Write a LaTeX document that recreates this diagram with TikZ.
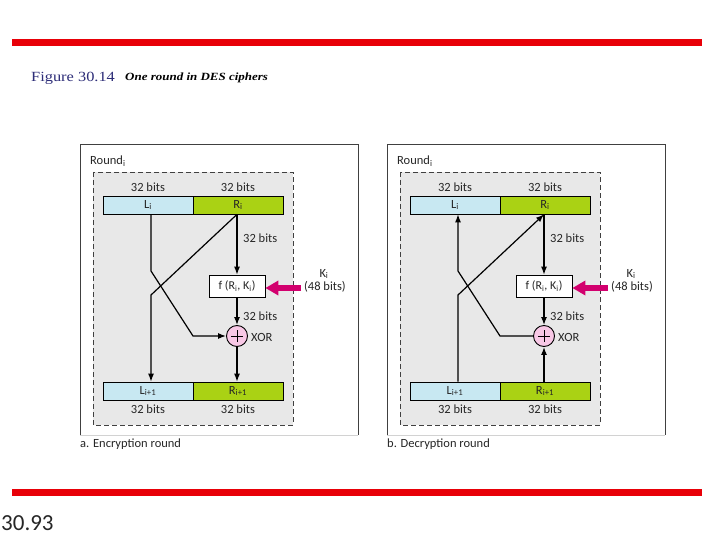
\documentclass[tikz,border=0pt]{standalone}
\usepackage{fontspec}
\setmainfont{Carlito}
\newfontfamily\capserif{Liberation Serif}
\usetikzlibrary{arrows.meta}
\definecolor{redbar}{RGB}{232,0,8}
\definecolor{lblue}{RGB}{200,232,242}
\definecolor{rgreen}{RGB}{170,210,20}
\definecolor{boxgray}{RGB}{232,232,232}
\definecolor{pinkx}{RGB}{248,200,230}
\definecolor{magentax}{RGB}{210,0,110}
\definecolor{capblue}{RGB}{45,45,120}
\begin{document}
\begin{tikzpicture}[x=1pt,y=-1pt,
  lbl/.style={font=\fontsize{12.5}{14}\selectfont, inner sep=0pt, text=black!85},
  barbase/.style={draw=black, line width=0.7pt, minimum width=90pt, minimum height=18pt, inner sep=0pt, font=\fontsize{12.5}{14}\selectfont, text=black!85},
  lbar/.style={barbase, fill=lblue},
  rbar/.style={barbase, fill=rgreen},
  fbox/.style={draw=black, line width=0.7pt, fill=white, minimum width=56pt, minimum height=22pt, inner sep=0pt, font=\fontsize{12}{14}\selectfont, text=black!85},
  xorc/.style={circle, draw=black, line width=0.9pt, fill=pinkx, minimum size=21pt, inner sep=0pt},
  arr/.style={line width=1.2pt, -{Latex[length=8pt,width=6pt]}},
  karrow/.style={draw=magentax, line width=6pt, -{Triangle[length=13pt,width=14pt]}},
  outer/.style={draw=black!75, line width=0.8pt},
  dbox/.style={draw=black!75, fill=boxgray, line width=0.9pt, dash pattern=on 5pt off 3pt}
]
\useasboundingbox (0,0) rectangle (720,540);
\fill[white] (0,0) rectangle (720,540);

% red rules
\draw[redbar, line width=7pt] (12,42.5) -- (702,42.5);
\draw[redbar, line width=7pt] (12,492) -- (702,492);

% title
\node[anchor=west, inner sep=0pt, text=capblue] (figno) at (31,78)
  {\scalebox{1.17}[1]{\capserif\fontsize{14}{16}\selectfont Figure 30.14}};
\node[anchor=west, inner sep=0pt] (figtitle) at (125,78)
  {\scalebox{1.18}[1]{\capserif\fontsize{11}{13}\selectfont\bfseries\itshape One round in DES ciphers}};
\node[anchor=west, inner sep=0pt, text=black!85] (pageno) at (1,523)
  {\fontsize{23}{26}\selectfont 30.93};

% ===== panel a: encryption =====
\draw[outer] (80,435) -- (80,144) -- (358,144) -- (358,435);
\draw[gray!35, line width=0.8pt] (80,435) -- (358,435);
\draw[dbox] (93,172) rectangle (293,425);
\node[lbl, anchor=west] (aRound) at (90,161) {Round\textsubscript{i}};
\node[lbar] (aLi) at (148,205) {L\textsubscript{i}};
\node[rbar] (aRi) at (238,205) {R\textsubscript{i}};
\node[lbl] (aLt) at (148,187) {32 bits};
\node[lbl] (aRt) at (238,187) {32 bits};
\node[lbar] (aLo) at (148,391) {L\textsubscript{i+1}};
\node[rbar] (aRo) at (238,391) {R\textsubscript{i+1}};
\node[lbl] (aLb) at (148,409) {32 bits};
\node[lbl] (aRb) at (238,409) {32 bits};
\node[fbox] (af) at (237,286) {f (R\textsubscript{i}, K\textsubscript{i})};
\node[xorc] (ax) at (237,336) {};
\draw[line width=0.9pt] ([xshift=-6pt]ax.center) -- ([xshift=6pt]ax.center)
                        ([yshift=-6pt]ax.center) -- ([yshift=6pt]ax.center);
\node[lbl, anchor=west] (ab1) at (243,238) {32 bits};
\node[lbl, anchor=west] (ab2) at (243,316) {32 bits};
\node[lbl, anchor=west] (axl) at (251,337) {XOR};
\node[lbl] (aK) at (324,274) {K\textsubscript{i}};
\node[lbl] (aKb) at (325,287) {(48 bits)};
\coordinate (aKs) at (301,288);
\draw[karrow] (aKs) -- (af.east |- aKs);
\coordinate (aL1) at (151,271);
\coordinate (aL2) at (193,336);
\coordinate (aR1) at (151,295);
\draw[arr] (af.north |- aRi.south) -- (af.north);
\draw[arr] (af.south) -- (ax.north);
\draw[arr] (ax.south) -- (ax.south |- aRo.north);
\draw[arr] (aL1 |- aLi.south) -- (aL1) -- (aL2) -- (ax.west);
\draw[arr] (af.north |- aRi.south) -- (aR1) -- (aR1 |- aLo.north);
\node[lbl, anchor=west] (acap) at (80,444) {a. Encryption round};

% ===== panel b: decryption =====
\begin{scope}[xshift=307pt]
\draw[outer] (80,435) -- (80,144) -- (358,144) -- (358,435);
\draw[gray!35, line width=0.8pt] (80,435) -- (358,435);
\draw[dbox] (93,172) rectangle (293,425);
\node[lbl, anchor=west] (bRound) at (90,161) {Round\textsubscript{i}};
\node[lbar] (bLi) at (148,205) {L\textsubscript{i}};
\node[rbar] (bRi) at (238,205) {R\textsubscript{i}};
\node[lbl] (bLt) at (148,187) {32 bits};
\node[lbl] (bRt) at (238,187) {32 bits};
\node[lbar] (bLo) at (148,391) {L\textsubscript{i+1}};
\node[rbar] (bRo) at (238,391) {R\textsubscript{i+1}};
\node[lbl] (bLb) at (148,409) {32 bits};
\node[lbl] (bRb) at (238,409) {32 bits};
\node[fbox] (bf) at (237,286) {f (R\textsubscript{i}, K\textsubscript{i})};
\node[xorc] (bx) at (237,336) {};
\draw[line width=0.9pt] ([xshift=-6pt]bx.center) -- ([xshift=6pt]bx.center)
                        ([yshift=-6pt]bx.center) -- ([yshift=6pt]bx.center);
\node[lbl, anchor=west] (bb1) at (243,238) {32 bits};
\node[lbl, anchor=west] (bb2) at (243,316) {32 bits};
\node[lbl, anchor=west] (bxl) at (251,337) {XOR};
\node[lbl] (bK) at (324,274) {K\textsubscript{i}};
\node[lbl] (bKb) at (325,287) {(48 bits)};
\coordinate (bKs) at (301,288);
\draw[karrow] (bKs) -- (bf.east |- bKs);
\coordinate (bL1) at (151,271);
\coordinate (bL2) at (193,336);
\coordinate (bR1) at (151,295);
\draw[arr] (bf.north |- bRi.south) -- (bf.north);
\draw[arr] (bf.south) -- (bx.north);
\draw[arr] (bx.south |- bRo.north) -- (bx.south);
\draw[arr] (bx.west) -- (bL2) -- (bL1) -- (bL1 |- bLi.south);
\draw[arr] (bR1 |- bLo.north) -- (bR1) -- (bf.north |- bRi.south);
\node[lbl, anchor=west] (bcap) at (80,444) {b. Decryption round};
\end{scope}
\end{tikzpicture}
\end{document}
